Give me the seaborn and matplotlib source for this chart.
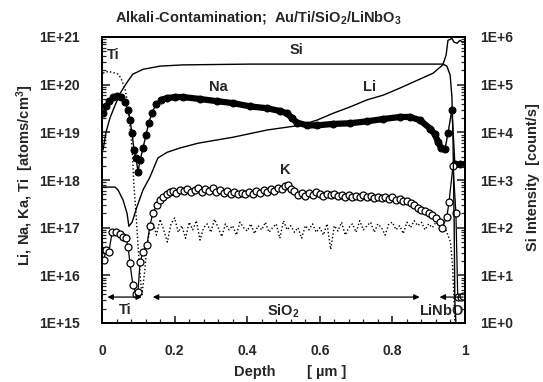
import numpy as np
import pandas as pd
import matplotlib
matplotlib.use("Agg")
import matplotlib.pyplot as plt
import seaborn as sns
from matplotlib.ticker import FuncFormatter, LogLocator, MultipleLocator, NullFormatter

# ---------------- data ----------------
na_depth = [0.003, 0.011, 0.019, 0.030, 0.041, 0.052, 0.063, 0.072, 0.077, 0.083,
            0.088, 0.094, 0.099, 0.105, 0.113, 0.121, 0.129, 0.138, 0.149, 0.163,
            0.179, 0.201, 0.223, 0.27, 0.317, 0.361, 0.408, 0.455, 0.49, 0.51,
            0.523, 0.537, 0.565, 0.592, 0.636, 0.683, 0.73, 0.774, 0.821, 0.848,
            0.876, 0.904, 0.917, 0.926, 0.934, 0.945, 0.953, 0.964, 0.972, 0.986, 1.0]
na_conc = [2.5e19, 3.5e19, 4.5e19, 5.5e19, 5.8e19, 5.5e19, 4.3e19, 3.0e19, 1.8e19, 9.5e18,
           4.3e18, 2.9e18, 1.5e18, 2.6e18, 4.7e18, 8.7e18, 1.6e19, 2.6e19, 3.9e19, 4.8e19,
           5.2e19, 5.5e19, 5.5e19, 5.0e19, 4.5e19, 4.1e19, 3.5e19, 3.2e19, 2.8e19, 2.5e19,
           2.0e19, 1.6e19, 1.4e19, 1.4e19, 1.5e19, 1.55e19, 1.7e19, 1.9e19, 2.1e19, 2.1e19,
           1.8e19, 1.2e19, 9.1e18, 6.2e18, 4.7e18, 4.5e18, 9.5e18, 3.0e19, 2.2e18, 2.2e18, 2.2e18]

li_depth = [0.0, 0.017, 0.036, 0.044, 0.058, 0.069, 0.074, 0.083, 0.096, 0.113,
            0.132, 0.154, 0.179, 0.215, 0.264, 0.361, 0.455, 0.545, 0.592, 0.636,
            0.683, 0.73, 0.774, 0.821, 0.868, 0.912, 0.939, 0.948, 0.953, 0.964,
            0.970, 0.978, 0.986, 0.994, 1.0]
li_conc = [7.1e17, 7.1e17, 7.1e17, 6.2e17, 3.8e17, 2.0e17, 1.07e17, 1.3e17, 2.7e17, 6.2e17,
           1.15e18, 2.9e18, 3.8e18, 4.7e18, 5.9e18, 7.9e18, 1.12e19, 1.4e19, 1.8e19, 2.5e19,
           3.4e19, 4.8e19, 6.0e19, 8.5e19, 1.23e20, 1.74e20, 2.6e20, 4.2e20, 8.5e20, 9.3e20,
           7.8e20, 7.4e20, 8.5e20, 7.8e20, 8.1e20]

k_depth = [0.005, 0.011, 0.019, 0.028, 0.039, 0.050, 0.058, 0.066, 0.072, 0.077,
           0.085, 0.094, 0.099, 0.105, 0.113, 0.124, 0.132, 0.140, 0.152, 0.160,
           0.168, 0.179, 0.187, 0.195, 0.205, 0.215, 0.225, 0.235, 0.245, 0.255,
           0.265, 0.275, 0.285, 0.295, 0.305, 0.315, 0.325, 0.335, 0.345, 0.355,
           0.365, 0.375, 0.385, 0.395, 0.405, 0.415, 0.425, 0.435, 0.445, 0.455,
           0.465, 0.475, 0.485, 0.495, 0.505, 0.512, 0.52, 0.53, 0.54, 0.55,
           0.56, 0.57, 0.58, 0.59, 0.60, 0.61, 0.62, 0.63, 0.64, 0.65,
           0.66, 0.67, 0.68, 0.69, 0.70, 0.71, 0.72, 0.73, 0.74, 0.75,
           0.76, 0.77, 0.78, 0.79, 0.80, 0.81, 0.82, 0.83, 0.84, 0.85,
           0.86, 0.87, 0.88, 0.89, 0.90, 0.91, 0.92, 0.93, 0.937, 0.95,
           0.956, 0.967, 0.975, 0.98, 0.988, 0.995]
k_conc = [2.1e16, 3.4e16, 3.1e16, 8.1e16, 8.1e16, 7.4e16, 6.3e16, 6.0e16, 3.9e16, 1.8e16,
          6.3e15, 4.1e15, 4.5e15, 1.9e16, 3.1e16, 4.4e16, 1.1e17, 2.0e17, 3.0e17, 3.8e17,
          4.4e17, 5.0e17, 5.6e17, 6.0e17, 5.4e17, 6.3e17, 5.8e17, 6.6e17, 5.5e17, 6.2e17,
          6.9e17, 5.6e17, 6.4e17, 5.9e17, 6.8e17, 5.7e17, 6.1e17, 5.3e17, 5.8e17, 5.2e17,
          5.6e17, 5.1e17, 5.4e17, 5.0e17, 5.5e17, 5.2e17, 5.8e17, 5.4e17, 6.2e17, 5.6e17,
          6.4e17, 6.0e17, 6.8e17, 6.5e17, 7.6e17, 7.9e17, 6.6e17, 5.8e17, 4.9e17, 5.4e17,
          4.7e17, 5.3e17, 4.9e17, 5.5e17, 5.0e17, 4.6e17, 5.2e17, 4.8e17, 5.1e17, 4.6e17,
          4.9e17, 4.4e17, 4.8e17, 4.3e17, 4.7e17, 4.5e17, 4.9e17, 4.4e17, 4.7e17, 4.2e17,
          4.5e17, 4.1e17, 4.4e17, 4.0e17, 4.3e17, 3.8e17, 3.9e17, 3.6e17, 3.7e17, 3.3e17,
          3.0e17, 2.6e17, 2.4e17, 2.2e17, 2.0e17, 1.8e17, 1.6e17, 1.3e17, 1.0e17, 1.66e17,
          3.5e17, 2.0e18, 2.0e17, 3.5e15, 3.5e15, 3.6e15]

ti_depth = [0.003, 0.017, 0.030, 0.044, 0.052, 0.063, 0.072, 0.077, 0.083, 0.088,
            0.094, 0.099, 0.105, 0.110, 0.118, 0.124, 0.132, 0.14, 0.15, 0.16,
            0.17, 0.18, 0.19, 0.20, 0.21, 0.22, 0.23, 0.24, 0.25, 0.26,
            0.27, 0.28, 0.29, 0.30, 0.31, 0.32, 0.33, 0.34, 0.35, 0.36,
            0.37, 0.38, 0.39, 0.40, 0.41, 0.42, 0.43, 0.44, 0.45, 0.46,
            0.47, 0.48, 0.49, 0.50, 0.51, 0.52, 0.53, 0.54, 0.55, 0.56,
            0.57, 0.58, 0.59, 0.60, 0.61, 0.62, 0.63, 0.64, 0.65, 0.66,
            0.67, 0.68, 0.69, 0.70, 0.71, 0.72, 0.73, 0.74, 0.75, 0.76,
            0.77, 0.78, 0.79, 0.80, 0.81, 0.82, 0.83, 0.84, 0.85, 0.86,
            0.87, 0.88, 0.89, 0.90, 0.91, 0.92, 0.93, 0.94, 0.95, 0.96,
            0.966, 0.972]
ti_conc = [1.74e20, 1.9e20, 1.8e20, 1.66e20, 1.38e20, 8.5e19, 3.7e19, 1.4e19, 4.3e18, 7.8e17,
           1.8e17, 4.4e16, 1.0e16, 3.9e15, 1.3e16, 4.4e16, 8.9e16, 1.3e17, 7e16, 1.5e17,
           9e16, 5e16, 1.2e17, 1.6e17, 8e16, 1.1e17, 6e16, 1.3e17, 9e16, 1.4e17,
           5.5e16, 1.0e17, 1.2e17, 8e16, 1.5e17, 1.0e17, 6.5e16, 1.2e17, 9e16, 1.1e17,
           7e16, 1.3e17, 1.0e17, 8.5e16, 1.2e17, 7.5e16, 1.1e17, 9e16, 1.3e17, 8e16,
           1.0e17, 1.2e17, 6e16, 1.4e17, 9e16, 1.1e17, 8e16, 1.0e17, 6e16, 1.1e17,
           9e16, 1.2e17, 8e16, 1.0e17, 7e16, 1.2e17, 3.5e16, 1.1e17, 8.5e16, 1.3e17,
           7e16, 1.0e17, 1.2e17, 8e16, 1.4e17, 9e16, 1.1e17, 1.3e17, 8e16, 1.2e17,
           1.0e17, 7e16, 1.2e17, 1.3e17, 9e16, 1.1e17, 7.5e16, 1.3e17, 1.0e17, 1.4e17,
           1.1e17, 1.3e17, 9e16, 1.2e17, 1.0e17, 1.3e17, 1.1e17, 1.2e17, 8e16, 5e16,
           1.5e16, 1.1e15]

si_depth = [0.003, 0.011, 0.022, 0.036, 0.050, 0.069, 0.085, 0.113, 0.160, 0.223,
            0.408, 0.683, 0.939, 0.950, 0.959, 0.964, 0.967, 0.970, 0.972, 0.975]
si_counts = [4.3e3, 1.0e4, 2.0e4, 3.7e4, 6.6e4, 1.12e5, 1.66e5, 2.1e5, 2.45e5, 2.6e5,
             2.7e5, 2.7e5, 2.7e5, 2.45e5, 1.6e5, 5.5e4, 6.9e3, 145, 3.0, 1.0]

left_ticks = [1e15, 1e16, 1e17, 1e18, 1e19, 1e20, 1e21]
right_ticks = [1e0, 1e1, 1e2, 1e3, 1e4, 1e5, 1e6]
x_ticks = [0, 0.2, 0.4, 0.6, 0.8, 1]
x_ticklabels = ["0", "0.2", "0.4", "0.6", "0.8", "1"]

# ---------------- style ----------------
sns.set_theme(style="ticks")
plt.rcParams["font.family"] = ["Liberation Sans", "DejaVu Sans"]
plt.rcParams["font.weight"] = "bold"
plt.rcParams["mathtext.fontset"] = "custom"
plt.rcParams["mathtext.rm"] = "Liberation Sans:bold"
plt.rcParams["mathtext.bf"] = "Liberation Sans:bold"
plt.rcParams["mathtext.default"] = "bf"

fig = plt.figure(figsize=(5.43, 3.82), dpi=100)
ax = fig.add_axes([102 / 543, 1 - 323 / 382, 363 / 543, 286 / 382])
ax2 = ax.twinx()

na_df = pd.DataFrame({"depth": na_depth, "conc": na_conc})
li_df = pd.DataFrame({"depth": li_depth, "conc": li_conc})
k_df = pd.DataFrame({"depth": k_depth, "conc": k_conc})
ti_df = pd.DataFrame({"depth": ti_depth, "conc": ti_conc})
si_df = pd.DataFrame({"depth": si_depth, "counts": si_counts})

# Ti (dotted)
sns.lineplot(data=ti_df, x="depth", y="conc", ax=ax, color="black", lw=1.0,
             linestyle=(0, (1, 1.6)), sort=False, estimator=None)
# Li (solid)
sns.lineplot(data=li_df, x="depth", y="conc", ax=ax, color="black", lw=1.0,
             sort=False, estimator=None)
# Na thick band (dense data) + markers
na_mid = na_df[(na_df.depth >= 0.16) & (na_df.depth <= 0.935)]
sns.lineplot(data=na_mid, x="depth", y="conc", ax=ax, color="black", lw=4.5,
             sort=False, estimator=None, solid_capstyle="round")
sns.lineplot(data=na_df, x="depth", y="conc", ax=ax, color="black", lw=1.0,
             marker="o", markersize=5.0, markerfacecolor="black",
             markeredgecolor="black", sort=False, estimator=None)
# K (open circles)
sns.lineplot(data=k_df, x="depth", y="conc", ax=ax, color="black", lw=0.9,
             marker="o", markersize=5.0, markerfacecolor="white",
             markeredgecolor="black", markeredgewidth=0.9, sort=False, estimator=None)
# Si (right axis)
sns.lineplot(data=si_df, x="depth", y="counts", ax=ax2, color="black", lw=1.0,
             sort=False, estimator=None)

for a in (ax, ax2):
    a.set_yscale("log")
    a.set_xlim(0, 1)
    a.set_xlabel("")
    a.set_ylabel("")
ax.set_ylim(1e15, 1e21)
ax2.set_ylim(1, 1e6)

fmt = FuncFormatter(lambda v, p: "1E+%d" % int(round(np.log10(v))))
ax.set_yticks(left_ticks)
ax.yaxis.set_major_formatter(fmt)
ax2.set_yticks(right_ticks)
ax2.yaxis.set_major_formatter(fmt)
for a in (ax, ax2):
    a.yaxis.set_minor_locator(LogLocator(base=10, subs=np.arange(2, 10) * 1.0, numticks=20))
    a.yaxis.set_minor_formatter(NullFormatter())

ax.set_xticks(x_ticks)
ax.set_xticklabels(x_ticklabels)
ax.xaxis.set_minor_locator(MultipleLocator(0.04))

ax.tick_params(axis="y", which="major", direction="in", length=6, width=1.2,
               labelsize=10, pad=16)
ax.tick_params(axis="y", which="minor", direction="in", length=3, width=0.9)
ax2.tick_params(axis="y", which="major", direction="in", length=6, width=1.2,
                labelsize=10, pad=11)
ax2.tick_params(axis="y", which="minor", direction="in", length=3, width=0.9)
ax.tick_params(axis="x", which="major", direction="in", length=5, width=1.2,
               labelsize=10, pad=15)
ax.tick_params(axis="x", which="minor", direction="in", length=3, width=0.9)
ax.tick_params(top=False, which="both")
for lab in ax.get_xticklabels() + ax.get_yticklabels() + ax2.get_yticklabels():
    lab.set_fontweight("bold")

for a in (ax, ax2):
    for s in a.spines.values():
        s.set_linewidth(1.4)
        s.set_color("black")

# series labels
lab_kw = dict(fontsize=10.5, fontweight="bold", ha="center", va="center")
ax.text(0.03, 10 ** 20.62, "Ti", **lab_kw)
ax.text(0.537, 10 ** 20.72, "Si", **lab_kw)
ax.text(0.32, 10 ** 19.95, "Na", **lab_kw)
ax.text(0.738, 10 ** 19.95, "Li", **lab_kw)
ax.text(0.504, 10 ** 18.21, "K", **lab_kw)

# layer arrows
arr_y = 3.5e15
arrow_kw = dict(arrowstyle="<|-|>", lw=0.9, color="black", mutation_scale=8,
                shrinkA=0, shrinkB=0)
ax.annotate("", xy=(0.11, arr_y), xytext=(0.015, arr_y), arrowprops=arrow_kw)
ax.annotate("", xy=(0.875, arr_y), xytext=(0.14, arr_y), arrowprops=arrow_kw)
ax.annotate("", xy=(0.995, arr_y), xytext=(0.93, arr_y),
            arrowprops=dict(arrowstyle="<|-", lw=0.9, color="black", mutation_scale=8,
                            shrinkA=0, shrinkB=0))
ax.text(0.063, 10 ** 15.27, "Ti", fontsize=10.5, fontweight="bold", ha="center", va="center")
ax.text(0.50, 10 ** 15.25, "SiO$_2$", fontsize=10.5, fontweight="bold", ha="center", va="center")
ax.text(0.872, 10 ** 15.25, "LiNbO$_3$", fontsize=10.5, fontweight="bold", ha="left",
        va="center", clip_on=True)

# axis titles
fig.text(0.5 * (112 + 405) / 543, 1 - 17 / 382,
         "Alkali-Contamination;  Au/Ti/SiO$_2$/LiNbO$_3$",
         fontsize=10.5, fontweight="bold", ha="center", va="center")
fig.text(25 / 543, 1 - 175 / 382, "Li, Na, Ka, Ti  [atoms/cm$^3$]", rotation=90,
         fontsize=10.5, fontweight="bold", ha="center", va="center")
fig.text(533 / 543, 1 - 177 / 382, "Si Intensity  [count/s]", rotation=90,
         fontsize=10.5, fontweight="bold", ha="center", va="center")
fig.text(255 / 543, 1 - 372 / 382, "Depth", fontsize=10.5, fontweight="bold",
         ha="center", va="center")
fig.text(327 / 543, 1 - 372 / 382, "[ \u00b5m ]", fontsize=10.5, fontweight="bold",
         ha="center", va="center")

fig.savefig("out.png", dpi=100)
